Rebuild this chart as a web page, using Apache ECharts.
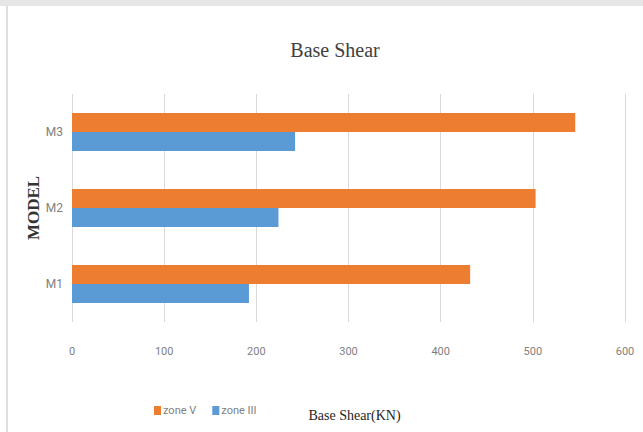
<!DOCTYPE html>
<html>
<head>
<meta charset="utf-8">
<script src="https://cdn.jsdelivr.net/npm/echarts@6/dist/echarts.min.js"></script>
<style>html,body{margin:0;padding:0;background:#fff}#c{width:643px;height:432px}</style>
</head>
<body>
<div id="c"></div>
<script>
var categories = ['M1', 'M2', 'M3'];
var zoneIII = [192, 224, 242];
var zoneV = [432, 503, 546];
var xTicks = [0, 100, 200, 300, 400, 500, 600];

var chart = echarts.init(document.getElementById('c'), null, {renderer: 'svg'});
var narrow = '"Liberation Sans Narrow", "Roboto", sans-serif';
var serif = '"Liberation Serif", "DejaVu Serif", serif';
chart.setOption({
  animation: false,
  backgroundColor: '#fff',
  title: {
    text: 'Base Shear',
    left: 330, top: 35, textAlign: 'center',
    textStyle: {fontFamily: serif, fontSize: 20, fontWeight: 'normal', color: '#404040'}
  },
  legend: {
    data: ['zone V', 'zone III'],
    left: 149, top: 400,
    itemWidth: 7, itemHeight: 9, itemGap: 16,
    icon: 'rect',
    textStyle: {fontFamily: narrow, fontSize: 11, color: '#7f7f7f', padding: [0,0,0,-3]}
  },
  grid: {left: 72, right: 18, top: 94, bottom: 110, containLabel: false},
  xAxis: {
    type: 'value', min: xTicks[0], max: xTicks[xTicks.length - 1], interval: 100,
    name: 'Base Shear(KN)', nameLocation: 'middle', nameGap: 86,
    nameTextStyle: {fontFamily: serif, fontSize: 14, color: '#262626', padding: [0,0,0,12]},
    axisLine: {show: false}, axisTick: {show: false},
    axisLabel: {fontFamily: narrow, fontSize: 11, color: '#7f7f7f', margin: 24},
    splitLine: {lineStyle: {color: '#d9d9d9', width: 1}}
  },
  yAxis: {
    type: 'category', data: categories,
    name: 'MODEL', nameLocation: 'middle', nameGap: 30, nameRotate: 90, nameMoveOverlap: false,
    nameTextStyle: {fontFamily: serif, fontSize: 17, fontWeight: 'bold', color: '#333333'},
    axisLine: {show: false}, axisTick: {show: false},
    axisLabel: {fontFamily: narrow, fontSize: 12, color: '#7f7f7f', margin: 9},
    splitLine: {show: false}
  },
  series: [
    {name: 'zone V', type: 'bar', data: zoneV, barWidth: 19, barGap: '0%', itemStyle: {color: '#ED7D31'}},
    {name: 'zone III', type: 'bar', data: zoneIII, barWidth: 19, barGap: '0%', itemStyle: {color: '#5B9BD5'}}
  ],
  graphic: [
    {type: 'rect', shape: {x: 0, y: 0, width: 643, height: 6}, style: {fill: '#e6e6e6'}, silent: true},
    {type: 'rect', shape: {x: 6, y: 6, width: 2, height: 426}, style: {fill: '#dedede'}, silent: true}
  ]
});
</script>
</body>
</html>
